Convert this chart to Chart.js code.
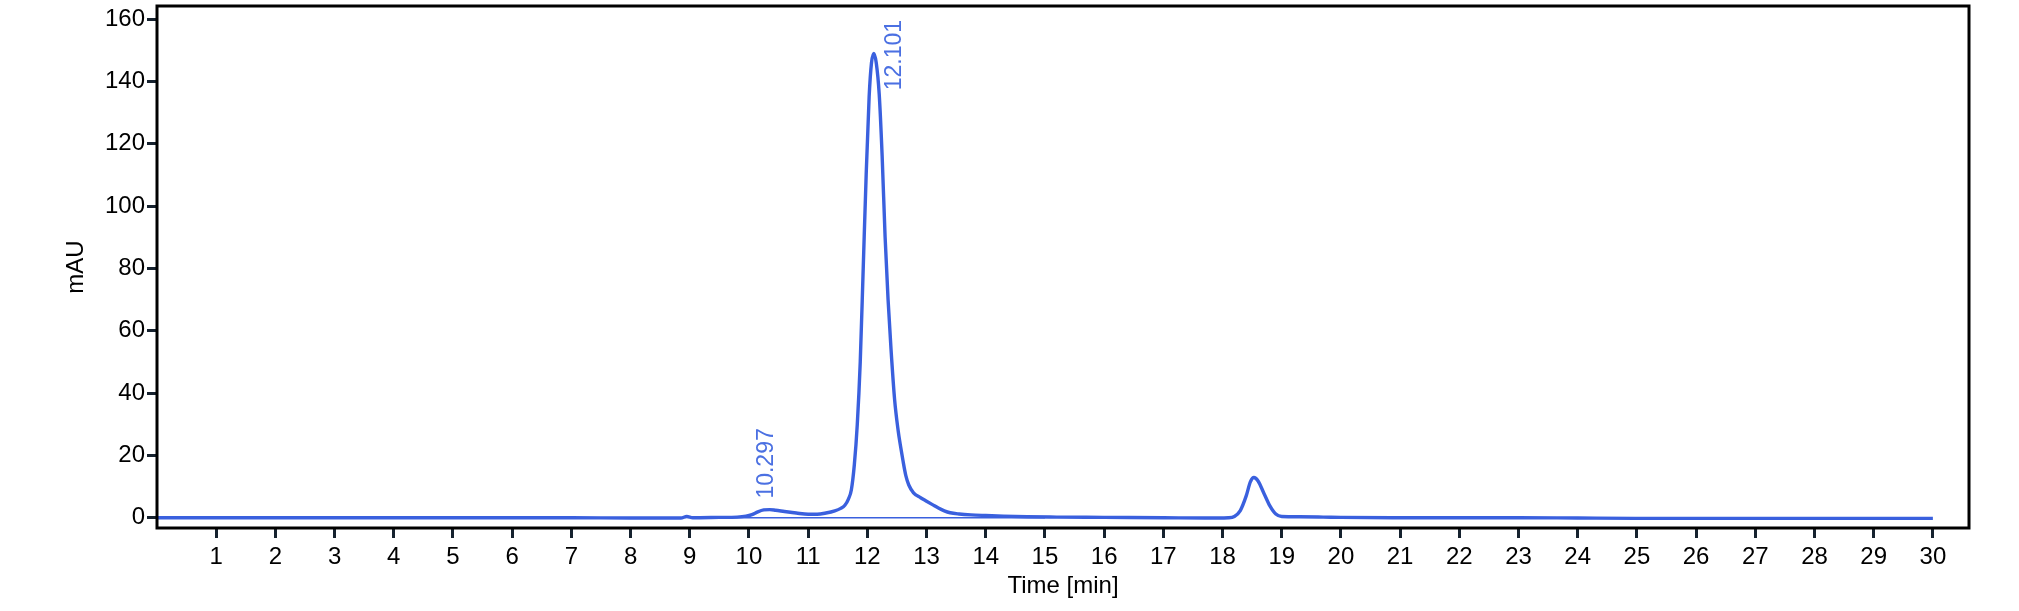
<!DOCTYPE html>
<html>
<head>
<meta charset="utf-8">
<title>Chromatogram</title>
<script src="https://cdn.jsdelivr.net/npm/chart.js@4.4.1/dist/chart.umd.min.js"></script>
<style>
    html, body { margin: 0; padding: 0; background: #ffffff; }
    #chromChart { display: block; }
</style>
</head>
<body>
<canvas id="chromChart" width="2019" height="611"></canvas>
<script>
// Retention time (min) and absorbance (mAU)
const timeMin = [
    0, 1, 2, 3, 4, 5, 6, 7, 8, 8.85, 8.95, 9.05, 9.5, 9.8, 9.95,
    10.05, 10.15, 10.25, 10.35, 10.45, 10.6, 10.8, 11.0, 11.15, 11.3, 11.45, 11.55, 11.62, 11.68, 11.73,
    11.78, 11.83, 11.88, 11.93, 11.98, 12.03, 12.07, 12.11, 12.15, 12.2, 12.25, 12.3, 12.35, 12.4, 12.46,
    12.52, 12.56, 12.6, 12.65, 12.7, 12.78, 12.9, 13.0, 13.1, 13.2, 13.3, 13.4, 13.55, 13.75, 14.0,
    14.3, 14.7, 15.2, 16, 17, 17.7, 18.1, 18.2, 18.3, 18.4, 18.47, 18.53, 18.6, 18.7, 18.8,
    18.9, 19.0, 19.3, 19.7, 20, 21, 22, 23, 24, 25, 26, 27, 28, 29, 30
];
const absorbance = [
    0, 0, 0, 0, 0, 0, 0, 0, -0.1, -0.1, 0.4, 0, 0.1, 0.2, 0.5,
    1.0, 1.9, 2.5, 2.6, 2.4, 2.0, 1.5, 1.1, 1.1, 1.5, 2.2, 3.0, 4.0, 6.0, 9.0,
    17, 30, 50, 80, 110, 135, 146, 149, 146, 136, 116, 90, 70, 54, 38,
    28, 23, 18.5, 13.5, 10.5, 8, 6.4, 5.3, 4.2, 3.1, 2.2, 1.6, 1.2, 0.9, 0.7,
    0.5, 0.3, 0.2, 0.1, 0, -0.1, 0, 0.4, 2.3, 7, 11.5, 12.9, 11.8, 7.8, 3.8,
    1.2, 0.4, 0.3, 0.2, 0.1, 0, 0, 0, -0.1, -0.2, -0.2, -0.2, -0.2, -0.2, -0.2
];

// Integration baseline under the main peak group
const baselineTime = [9.5, 15.0];
const baselineValue = [0, 0];

// Annotated peaks
const peakTimes = [10.297, 12.101];
const peakValues = [2.6, 149];
const peakLabels = ['10.297', '12.101'];

// Axis ticks
const xTicks = [1, 2, 3, 4, 5, 6, 7, 8, 9, 10, 11, 12, 13, 14, 15, 16, 17, 18, 19, 20,
    21, 22, 23, 24, 25, 26, 27, 28, 29, 30];
const yTicks = [0, 20, 40, 60, 80, 100, 120, 140, 160];

const FONT = '"Liberation Sans", Arial, Helvetica, sans-serif';
const LINE_BLUE = '#3a60de';
const LABEL_BLUE = '#4b70e2';
const TICK_DARK = '#16222f';

const toPoints = (xs, ys) => xs.map((x, i) => ({ x: x, y: ys[i] }));

// Black frame round the plot area
const framePlugin = {
    id: 'frame',
    afterDatasetsDraw(chart) {
        const { ctx, chartArea } = chart;
        ctx.save();
        ctx.strokeStyle = '#000000';
        ctx.lineWidth = 3;
        ctx.strokeRect(chartArea.left, chartArea.top,
            chartArea.right - chartArea.left, chartArea.bottom - chartArea.top);
        ctx.restore();
    }
};

// Vertical retention-time labels above the peaks
const peakLabelPlugin = {
    id: 'peakLabels',
    afterDatasetsDraw(chart) {
        const { ctx, chartArea, scales } = chart;
        const size = 23;
        ctx.save();
        ctx.font = `${size}px ${FONT}`;
        ctx.fillStyle = LABEL_BLUE;
        ctx.textBaseline = 'middle';
        ctx.textAlign = 'left';
        peakTimes.forEach((t, i) => {
            const text = peakLabels[i];
            const w = ctx.measureText(text).width;
            let px = scales.x.getPixelForValue(t);
            let py = scales.y.getPixelForValue(peakValues[i]) - 11;
            if (py - w < chartArea.top + 10) {
                // no room above the apex: slide beside it
                py = chartArea.top + 14 + w;
                px += 21;
            }
            ctx.save();
            ctx.translate(px, py);
            ctx.rotate(-Math.PI / 2);
            ctx.fillText(text, 0, 0);
            ctx.restore();
        });
        ctx.restore();
    }
};

const ctx = document.getElementById('chromChart').getContext('2d');
const chromChart = new Chart(ctx, {
    type: 'line',
    data: {
        datasets: [{
            label: 'baseline',
            data: toPoints(baselineTime, baselineValue),
            borderColor: LINE_BLUE,
            borderWidth: 1.5,
            pointRadius: 0,
            tension: 0
        }, {
            label: 'signal',
            data: toPoints(timeMin, absorbance),
            borderColor: LINE_BLUE,
            borderWidth: 3.4,
            pointRadius: 0,
            cubicInterpolationMode: 'monotone',
            fill: false
        }]
    },
    options: {
        responsive: false,
        devicePixelRatio: 1,
        animation: false,
        layout: { padding: { top: 6, right: 50, left: 0, bottom: 0 } },
        plugins: {
            legend: { display: false },
            tooltip: { enabled: false }
        },
        scales: {
            x: {
                type: 'linear',
                min: 0,
                max: 30.61,
                afterBuildTicks: scale => { scale.ticks = xTicks.map(v => ({ value: v })); },
                afterFit: scale => {
                    scale.height = 83;
                    scale.paddingLeft = 0;
                    scale.paddingRight = 0;
                },
                border: { display: false },
                grid: {
                    drawOnChartArea: false,
                    drawTicks: true,
                    tickLength: 10,
                    lineWidth: 3,
                    color: TICK_DARK
                },
                ticks: {
                    color: '#000000',
                    padding: 5,
                    maxRotation: 0,
                    autoSkip: false,
                    font: { family: FONT, size: 24 }
                },
                title: {
                    display: true,
                    text: 'Time [min]',
                    color: '#000000',
                    font: { family: FONT, size: 24 },
                    padding: { top: 0, bottom: 10 }
                }
            },
            y: {
                type: 'linear',
                min: -3.3,
                max: 164.2,
                afterBuildTicks: scale => { scale.ticks = yTicks.map(v => ({ value: v })); },
                afterFit: scale => {
                    scale.width = 157;
                    scale.paddingTop = 0;
                    scale.paddingBottom = 0;
                },
                border: { display: false },
                grid: {
                    drawOnChartArea: false,
                    drawTicks: true,
                    tickLength: 10,
                    lineWidth: 3,
                    color: TICK_DARK
                },
                ticks: {
                    color: '#000000',
                    padding: 2,
                    autoSkip: false,
                    font: { family: FONT, size: 24 }
                },
                title: {
                    display: true,
                    text: 'mAU',
                    color: '#000000',
                    font: { family: FONT, size: 24 },
                    padding: { top: 62, bottom: 0 }
                }
            }
        }
    },
    plugins: [framePlugin, peakLabelPlugin]
});
</script>
</body>
</html>
